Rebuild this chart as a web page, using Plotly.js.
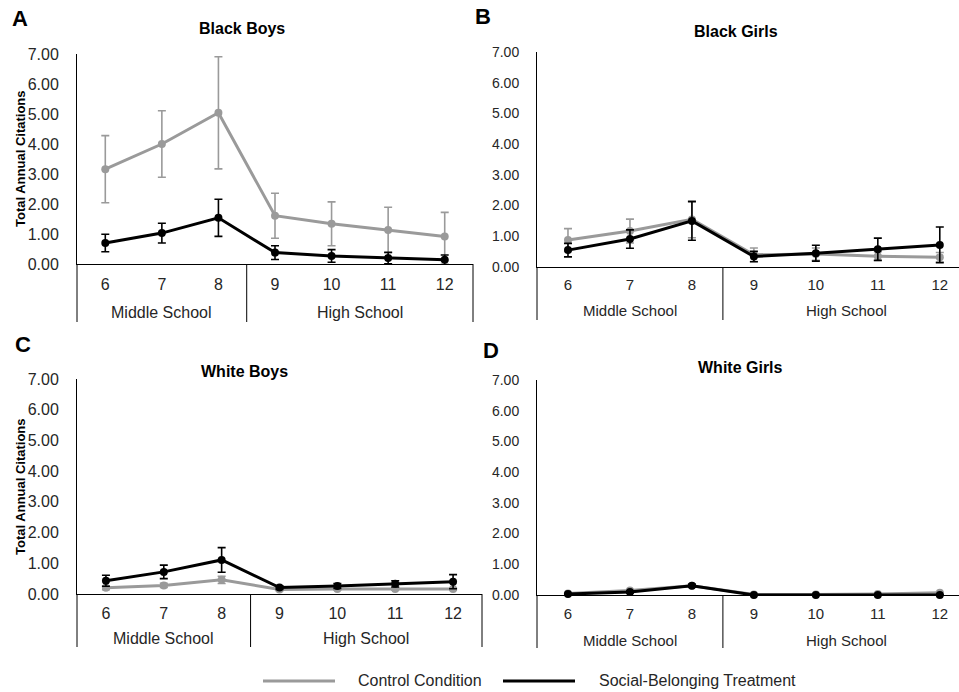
<!DOCTYPE html>
<html>
<head>
<meta charset="utf-8">
<script src="https://cdn.plot.ly/plotly-3.0.1.min.js"></script>
<style>html,body{margin:0;padding:0;background:#fff;}#chart{width:959px;height:692px;}</style>
</head>
<body>
<div id="chart"></div>
<script>
// ---- Data ----
var grades = ['6', '7', '8', '9', '10', '11', '12'];
var schools = ['Middle School', 'Middle School', 'Middle School', 'High School', 'High School', 'High School', 'High School'];
var seriesNames = ['Control Condition', 'Social-Belonging Treatment'];
var panelTitles = ['Black Boys', 'Black Girls', 'White Boys', 'White Girls'];
var panelLetters = ['A', 'B', 'C', 'D'];
var yTickVals = [0, 1, 2, 3, 4, 5, 6, 7];

var blackBoysControl = [3.16, 4.00, 5.04, 1.61, 1.34, 1.13, 0.92];
var blackBoysControlErr = [1.12, 1.11, 1.87, 0.75, 0.73, 0.76, 0.80];
var blackBoysTreat = [0.70, 1.03, 1.54, 0.38, 0.27, 0.20, 0.14];
var blackBoysTreatErr = [0.29, 0.33, 0.62, 0.23, 0.21, 0.19, 0.16];

var blackGirlsControl = [0.88, 1.17, 1.55, 0.40, 0.42, 0.35, 0.32];
var blackGirlsControlErr = [0.37, 0.39, 0.60, 0.22, 0.20, 0.15, 0.15];
var blackGirlsTreat = [0.55, 0.91, 1.50, 0.34, 0.45, 0.58, 0.72];
var blackGirlsTreatErr = [0.22, 0.30, 0.63, 0.17, 0.26, 0.36, 0.58];

var whiteBoysControl = [0.20, 0.28, 0.46, 0.15, 0.16, 0.16, 0.16];
var whiteBoysControlErr = [0.06, 0.07, 0.12, 0.04, 0.04, 0.04, 0.04];
var whiteBoysTreat = [0.43, 0.72, 1.11, 0.21, 0.26, 0.33, 0.40];
var whiteBoysTreatErr = [0.18, 0.22, 0.40, 0.06, 0.08, 0.10, 0.23];

var whiteGirlsControl = [0.05, 0.15, 0.30, 0.02, 0.02, 0.03, 0.07];
var whiteGirlsControlErr = [0.02, 0.03, 0.05, 0.01, 0.01, 0.01, 0.02];
var whiteGirlsTreat = [0.03, 0.10, 0.30, 0.00, 0.00, 0.00, 0.00];
var whiteGirlsTreatErr = [0.02, 0.03, 0.05, 0.01, 0.01, 0.01, 0.01];

// ---- Styles ----
var FONT = 'Liberation Sans, Arial, sans-serif';
var GRAY = '#9a9a9a';
var BLACK = '#000000';
var TXT = '#262626';
var W = 959, H = 692;

var panels = [
  {c: blackBoysControl, ce: blackBoysControlErr, t: blackBoysTreat, te: blackBoysTreatErr},
  {c: blackGirlsControl, ce: blackGirlsControlErr, t: blackGirlsTreat, te: blackGirlsTreatErr},
  {c: whiteBoysControl, ce: whiteBoysControlErr, t: whiteBoysTreat, te: whiteBoysTreatErr},
  {c: whiteGirlsControl, ce: whiteGirlsControlErr, t: whiteGirlsTreat, te: whiteGirlsTreatErr}
];

// pixel boxes [left, right, top(7.00), bottom(0.00)]
var boxes = [
  [77, 473, 54, 264],
  [537, 959, 52, 267],
  [77, 482, 379, 594],
  [537, 959, 380, 595]
];
var xRanges = [[-0.5, 6.5], [-0.5, 6.31], [-0.5, 6.5], [-0.5, 6.31]];
var xTickSizes = [16, 15, 16, 15];
var yTickSizes = [16, 14, 16, 14];
var xStandoff = [6, 4, 5, 5];
var groupOffset = [48, 44, 44, 45];     // px below axis for group label centre
var dividerLen = [58, 53, 53, 53];      // px below axis
var rightDivider = [true, false, true, false];
var titlePos = [[242, 28], [736, 31], [244, 371], [740, 367]];
var letterPos = [[20, 18], [483, 17], [23, 344], [491, 350]];

var traces = [];
var layout = {
  width: W, height: H,
  margin: {l: 0, r: 0, t: 0, b: 0},
  paper_bgcolor: '#ffffff', plot_bgcolor: 'rgba(0,0,0,0)',
  showlegend: false,
  font: {family: FONT, color: TXT},
  annotations: [],
  shapes: []
};

// group positions derived from the schools array
var groupNames = [], groupCenters = [], boundaries = [];
schools.forEach(function (s, k) {
  var g = groupNames.indexOf(s);
  if (g < 0) { groupNames.push(s); groupCenters.push([k]); if (k > 0) boundaries.push(k - 0.5); }
  else groupCenters[g].push(k);
});
groupCenters = groupCenters.map(function (a) { return (a[0] + a[a.length - 1]) / 2; });

var colors = [GRAY, BLACK];
panels.forEach(function (p, i) {
  var n = i + 1;
  var sfx = (n === 1 ? '' : String(n));
  var xa = 'x' + sfx, ya = 'y' + sfx;
  var vals = [p.c, p.t], errs = [p.ce, p.te];
  for (var s = 0; s < 2; s++) {
    traces.push({
      type: 'scatter', mode: 'lines+markers',
      x: grades, y: vals[s],
      name: seriesNames[s], legendgroup: seriesNames[s],
      xaxis: xa, yaxis: ya, cliponaxis: false,
      line: {color: colors[s], width: 3},
      marker: {color: colors[s], size: 8, symbol: 'circle'},
      error_y: {type: 'data', array: errs[s], visible: true, color: colors[s], thickness: 1.6, width: 4},
      hoverinfo: 'y'
    });
  }
  var b = boxes[i];
  layout['xaxis' + sfx] = {
    type: 'category', anchor: ya,
    domain: [b[0] / W, b[1] / W],
    range: xRanges[i],
    showline: true, linecolor: BLACK, linewidth: 1,
    showgrid: false, zeroline: false, ticks: '',
    ticklabelstandoff: xStandoff[i],
    tickfont: {family: FONT, size: xTickSizes[i], color: TXT},
    fixedrange: true
  };
  layout['yaxis' + sfx] = {
    anchor: xa,
    domain: [1 - b[3] / H, 1 - b[2] / H],
    range: [0, 7],
    tickvals: yTickVals, tickformat: '.2f',
    showline: true, linecolor: BLACK, linewidth: 1,
    showgrid: false, zeroline: false, ticks: '',
    ticklabelstandoff: 14,
    tickfont: {family: FONT, size: yTickSizes[i], color: TXT},
    fixedrange: true
  };

  // group labels (Middle School / High School)
  groupNames.forEach(function (g, k) {
    layout.annotations.push({
      text: g, xref: xa, yref: 'paper', x: groupCenters[k], y: 1 - (b[3] + groupOffset[i]) / H,
      xanchor: 'center', yanchor: 'middle', showarrow: false,
      font: {family: FONT, size: xTickSizes[i], color: TXT}
    });
  });
  // dividers
  var yTop = 1 - b[3] / H, yBot = 1 - (b[3] + dividerLen[i]) / H;
  layout.shapes.push({type: 'line', xref: xa + ' domain', yref: 'paper', x0: 0, x1: 0, y0: yTop, y1: yBot, line: {color: BLACK, width: 1}});
  boundaries.forEach(function (bd) {
    layout.shapes.push({type: 'line', xref: xa, yref: 'paper', x0: bd, x1: bd, y0: yTop, y1: yBot, line: {color: BLACK, width: 1}});
  });
  if (rightDivider[i]) {
    layout.shapes.push({type: 'line', xref: xa + ' domain', yref: 'paper', x0: 1, x1: 1, y0: yTop, y1: yBot, line: {color: BLACK, width: 1}});
  }

  // panel title
  layout.annotations.push({
    text: '<b>' + panelTitles[i] + '</b>', xref: 'paper', yref: 'paper',
    x: titlePos[i][0] / W, y: 1 - titlePos[i][1] / H,
    xanchor: 'center', yanchor: 'middle', showarrow: false,
    font: {family: FONT, size: 16, color: '#000'}
  });
  // panel letter
  layout.annotations.push({
    text: '<b>' + panelLetters[i] + '</b>', xref: 'paper', yref: 'paper',
    x: letterPos[i][0] / W, y: 1 - letterPos[i][1] / H,
    xanchor: 'center', yanchor: 'middle', showarrow: false,
    font: {family: FONT, size: 22, color: '#000'}
  });
});

// y axis titles (panels A and C)
[159, 487].forEach(function (v) {
  layout.annotations.push({
    text: '<b>Total Annual Citations</b>', xref: 'paper', yref: 'paper',
    x: 20 / W, y: 1 - v / H, textangle: -90,
    xanchor: 'center', yanchor: 'middle', showarrow: false,
    font: {family: FONT, size: 13, color: '#000'}
  });
});

// legend (drawn manually)
var legY = 1 - 681 / H;
layout.shapes.push({type: 'line', xref: 'paper', yref: 'paper', x0: 263 / W, x1: 335 / W, y0: legY, y1: legY, line: {color: GRAY, width: 3}});
layout.shapes.push({type: 'line', xref: 'paper', yref: 'paper', x0: 503 / W, x1: 575 / W, y0: legY, y1: legY, line: {color: BLACK, width: 3}});
layout.annotations.push({text: seriesNames[0], xref: 'paper', yref: 'paper', x: 356 / W, y: 1 - 680 / H, xanchor: 'left', yanchor: 'middle', showarrow: false, font: {family: FONT, size: 16, color: TXT}});
layout.annotations.push({text: seriesNames[1], xref: 'paper', yref: 'paper', x: 597 / W, y: 1 - 680 / H, xanchor: 'left', yanchor: 'middle', showarrow: false, font: {family: FONT, size: 16, color: TXT}});

Plotly.newPlot('chart', traces, layout, {displayModeBar: false, staticPlot: true});
</script>
</body>
</html>
